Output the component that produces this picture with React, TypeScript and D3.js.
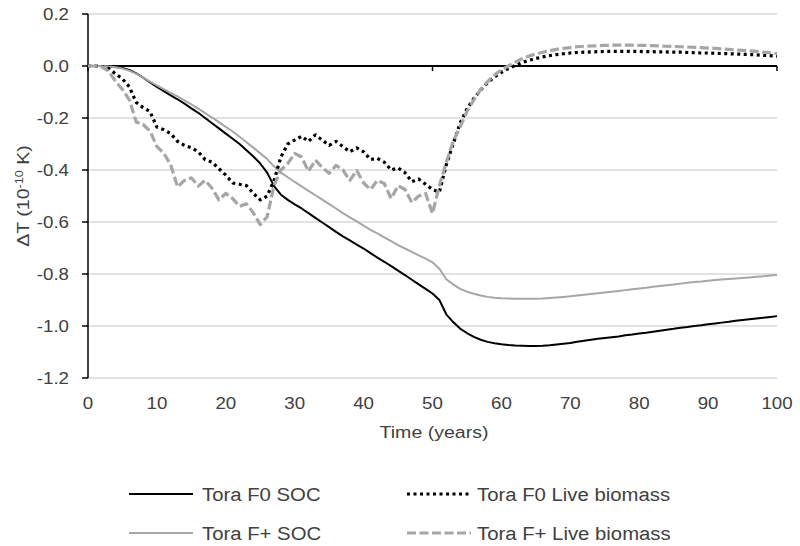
import React from "react";
import * as d3 from "d3";

const yTicks = [0.2, 0.0, -0.2, -0.4, -0.6, -0.8, -1.0, -1.2];
const xTickLabels = [0, 10, 20, 30, 40, 50, 60, 70, 80, 90, 100];
const xTickMarks = [0, 50, 100];

const seriesNames = ["Tora F0 SOC", "Tora F0 Live biomass", "Tora F+ SOC", "Tora F+ Live biomass"];

const f0Soc = [
  0, 0, 0, -0.002, -0.004, -0.008, -0.015, -0.028, -0.045, -0.063,
  -0.08, -0.097, -0.113, -0.128, -0.145, -0.163, -0.18, -0.2, -0.22, -0.24,
  -0.26, -0.28, -0.3, -0.324, -0.348, -0.375, -0.41, -0.462, -0.495, -0.515,
  -0.532, -0.548, -0.566, -0.584, -0.602, -0.62, -0.638, -0.655, -0.671, -0.687,
  -0.702, -0.72, -0.737, -0.753, -0.77, -0.787, -0.804, -0.822, -0.84, -0.857,
  -0.875, -0.9, -0.955, -0.985, -1.01, -1.027, -1.042, -1.053, -1.061, -1.066,
  -1.07, -1.073, -1.075, -1.076, -1.077, -1.077, -1.076, -1.074, -1.071, -1.068,
  -1.065, -1.061, -1.057, -1.053, -1.049, -1.046, -1.043, -1.04, -1.036, -1.033,
  -1.029, -1.026, -1.022, -1.018, -1.014, -1.011, -1.007, -1.004, -1.0, -0.997,
  -0.993, -0.99, -0.987, -0.984, -0.98, -0.977, -0.974, -0.971, -0.968, -0.965,
  -0.962,
];

const fpSoc = [
  0, 0, 0, -0.002, -0.005, -0.01, -0.018, -0.03, -0.045, -0.06,
  -0.075, -0.089, -0.103, -0.117, -0.132, -0.148, -0.164, -0.181, -0.198, -0.216,
  -0.234, -0.252, -0.272, -0.293, -0.314, -0.336, -0.358, -0.386, -0.41, -0.428,
  -0.446, -0.463, -0.48, -0.497, -0.514, -0.531, -0.548, -0.566, -0.582, -0.598,
  -0.614, -0.63, -0.644, -0.659, -0.674, -0.689, -0.702, -0.715, -0.728, -0.741,
  -0.755, -0.78, -0.82, -0.84, -0.857, -0.868, -0.876, -0.883, -0.888, -0.891,
  -0.893, -0.894, -0.895, -0.895, -0.895, -0.895, -0.894, -0.892, -0.89, -0.888,
  -0.886, -0.883, -0.88, -0.877, -0.874, -0.871, -0.868, -0.865, -0.862, -0.859,
  -0.856, -0.853, -0.849, -0.846, -0.843, -0.84, -0.837, -0.834, -0.831, -0.829,
  -0.826, -0.823, -0.821, -0.819, -0.817, -0.815, -0.813, -0.811, -0.809, -0.806,
  -0.804,
];

const f0Live = [
  0, 0, -0.002, -0.01, -0.03, -0.05, -0.08, -0.14, -0.16, -0.175,
  -0.235, -0.245, -0.26, -0.29, -0.305, -0.315, -0.33, -0.36, -0.37, -0.395,
  -0.42, -0.45, -0.455, -0.46, -0.49, -0.515, -0.5, -0.44, -0.35, -0.3,
  -0.285, -0.27, -0.29, -0.265, -0.285, -0.305, -0.29, -0.31, -0.33, -0.315,
  -0.33, -0.36, -0.355, -0.37, -0.4, -0.392, -0.41, -0.445, -0.435, -0.455,
  -0.475, -0.485, -0.38, -0.3, -0.22, -0.165, -0.125, -0.092, -0.064, -0.042,
  -0.024, -0.01, 0.002, 0.013, 0.022, 0.029, 0.035, 0.04, 0.044, 0.047,
  0.05, 0.052, 0.053, 0.054, 0.055, 0.056, 0.056, 0.056, 0.056, 0.056,
  0.056, 0.055, 0.055, 0.054, 0.054, 0.053, 0.053, 0.052, 0.051, 0.05,
  0.05, 0.049, 0.048, 0.047, 0.046, 0.045, 0.044, 0.043, 0.041, 0.04,
  0.038,
];

const fpLive = [
  0, 0, -0.003, -0.02, -0.06, -0.09, -0.13, -0.215, -0.225, -0.25,
  -0.31, -0.335, -0.38, -0.465, -0.44, -0.43, -0.462, -0.44, -0.47, -0.515,
  -0.49, -0.51, -0.54, -0.53, -0.565, -0.61, -0.58, -0.46, -0.4, -0.375,
  -0.336, -0.35, -0.405, -0.362, -0.39, -0.413, -0.382, -0.4, -0.44, -0.402,
  -0.45, -0.475, -0.44, -0.452, -0.51, -0.46, -0.475, -0.525, -0.5, -0.49,
  -0.567, -0.46, -0.37, -0.29, -0.235, -0.175, -0.13, -0.09, -0.06, -0.035,
  -0.015, 0.0, 0.015, 0.028, 0.038, 0.046, 0.053, 0.059, 0.064, 0.068,
  0.071, 0.074, 0.076, 0.077, 0.078, 0.079, 0.08, 0.08, 0.08, 0.08,
  0.079, 0.079, 0.078, 0.077, 0.076, 0.075, 0.074, 0.073, 0.072, 0.071,
  0.069, 0.068, 0.066, 0.064, 0.062, 0.06, 0.058, 0.056, 0.053, 0.051,
  0.048,
];

const FONT = "'Liberation Sans', Arial, sans-serif";
const TXT = "#404040";

function T({ x, y, size, sx = 1.15, anchor = "start", rotate = 0, children }: any) {
  return (
    <g transform={`translate(${x},${y}) rotate(${rotate}) scale(${sx},1)`}>
      <text x={0} y={0} fontSize={size} fontFamily={FONT} fill={TXT} textAnchor={anchor}>
        {children}
      </text>
    </g>
  );
}

export default function App() {
  const W = 800, H = 546;
  const x = d3.scaleLinear().domain([0, 100]).range([88, 777]);
  const y = d3.scaleLinear().domain([-1.2, 0.2]).range([378, 14]);
  const line = d3.line<number>().x((_, i) => x(i)).y((v) => y(v));

  const styles = [
    { data: f0Soc, stroke: "#000000", width: 2, dash: undefined },
    { data: f0Live, stroke: "#000000", width: 3.2, dash: "3 3.5" },
    { data: fpSoc, stroke: "#a6a6a6", width: 2, dash: undefined },
    { data: fpLive, stroke: "#a6a6a6", width: 3.2, dash: "9 3.5" },
  ];
  const order = [0, 2, 1, 3];

  const legendPos = [
    { lx: 129, ly: 494 },
    { lx: 407, ly: 494 },
    { lx: 129, ly: 533 },
    { lx: 407, ly: 533 },
  ];

  return (
    <svg width={W} height={H} style={{ position: "absolute", left: 0, top: 0, background: "#fff" }}>
      {yTicks.filter((t) => Math.abs(t) > 1e-9).map((t) => (
        <line key={"g" + t} x1={x(0)} x2={x(100)} y1={y(t)} y2={y(t)} stroke="#d9d9d9" strokeWidth={1.5} />
      ))}
      <line x1={x(0)} x2={x(0)} y1={y(0.2)} y2={y(-1.2)} stroke="#000" strokeWidth={1.5} />
      {yTicks.map((t) => (
        <line key={"yt" + t} x1={x(0) - 6} x2={x(0)} y1={y(t)} y2={y(t)} stroke="#000" strokeWidth={1.5} />
      ))}
      {yTicks.map((t) => (
        <T key={"yl" + t} x={69} y={y(t) + 5.5} size={16} sx={1.17} anchor="end">
          {t.toFixed(1)}
        </T>
      ))}
      <line x1={x(0)} x2={x(100)} y1={y(0)} y2={y(0)} stroke="#000" strokeWidth={1.8} />
      {xTickMarks.map((t) => (
        <line key={"xt" + t} x1={x(t)} x2={x(t)} y1={y(0)} y2={y(0) + 5} stroke="#000" strokeWidth={1.5} />
      ))}
      {xTickLabels.map((t) => (
        <T key={"xl" + t} x={x(t)} y={409} size={16} sx={1.17} anchor="middle">
          {String(t)}
        </T>
      ))}
      {order.map((k) => (
        <path key={"s" + k} d={line(styles[k].data) || ""} fill="none" stroke={styles[k].stroke}
          strokeWidth={styles[k].width} strokeDasharray={styles[k].dash} strokeLinejoin="round" />
      ))}
      <T x={434} y={438} size={17} sx={1.15} anchor="middle">Time (years)</T>
      <T x={29} y={196} size={17} sx={1.15} anchor="middle" rotate={-90}>
        ΔT (10<tspan fontSize={11} dy={-6}>-10</tspan><tspan dy={6}> K)</tspan>
      </T>
      {styles.map((s, i) => (
        <g key={"lg" + i}>
          <line x1={legendPos[i].lx} x2={legendPos[i].lx + 64} y1={legendPos[i].ly} y2={legendPos[i].ly}
            stroke={s.stroke} strokeWidth={s.width} strokeDasharray={s.dash} />
          <T x={legendPos[i].lx + (i % 2 === 0 ? 73 : 70)} y={legendPos[i].ly + 6.5} size={18} sx={1.13}>
            {seriesNames[i]}
          </T>
        </g>
      ))}
    </svg>
  );
}
